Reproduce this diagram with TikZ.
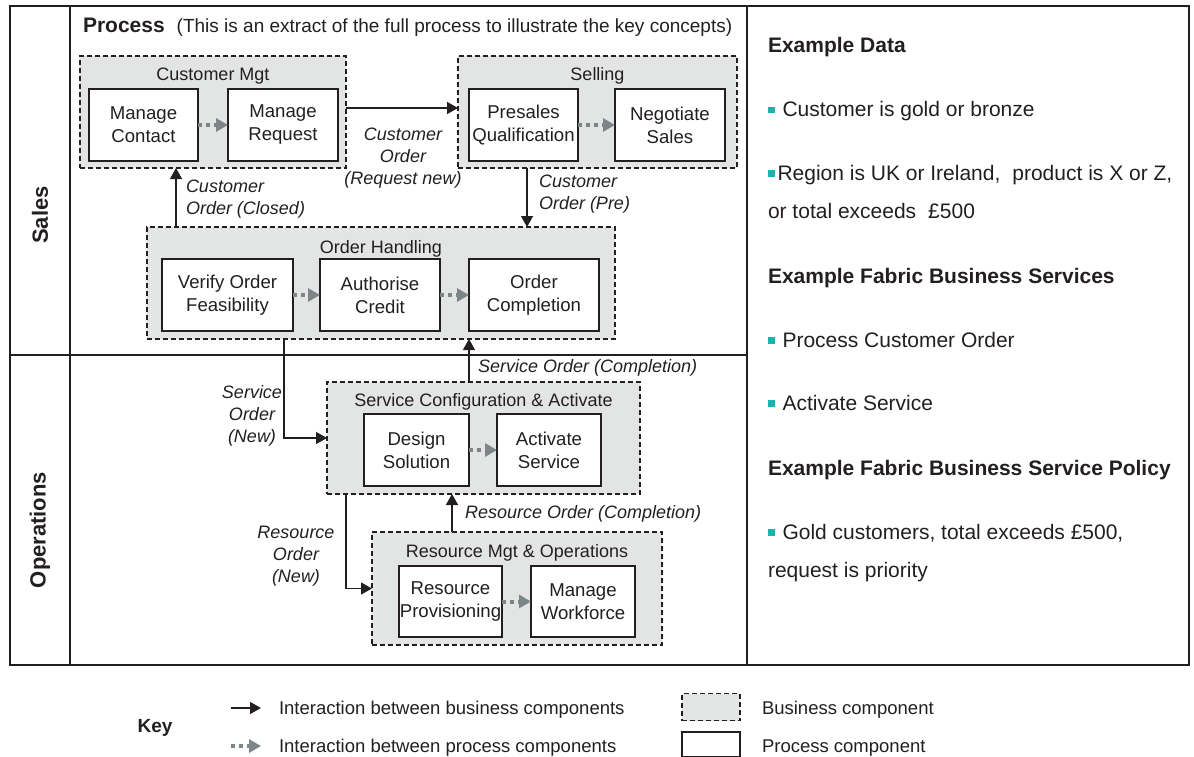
\documentclass[tikz,border=0pt]{standalone}
\usepackage{fontspec}
\setmainfont{Liberation Sans}
\usetikzlibrary{arrows.meta,calc}
\definecolor{bizfill}{HTML}{E3E4E4}
\definecolor{dotgray}{HTML}{7D8587}
\definecolor{bulletc}{HTML}{1AB3AE}
\definecolor{ink}{HTML}{231F20}
\newcommand{\bul}{\raisebox{3.5pt}{\textcolor{bulletc}{\rule{6.5pt}{6.5pt}}}}
\begin{document}
\begin{tikzpicture}[x=1pt,y=-1pt,
  every node/.style={text=ink, inner sep=0pt, outer sep=0pt},
  frame/.style={draw=ink, line width=1.8pt},
  biz/.style={draw=ink, fill=bizfill, line width=1.3pt, dash pattern=on 5pt off 3pt},
  proc/.style={draw=ink, fill=white, line width=2pt, align=center, minimum height=72pt, font=\fontsize{18.6}{23}\selectfont},
  ttl/.style={font=\fontsize{18}{22}\selectfont},
  lbl/.style={font=\fontsize{18}{22}\selectfont\itshape},
  lane/.style={font=\fontsize{22}{26}\selectfont\bfseries, rotate=90},
  side/.style={anchor=base west, font=\fontsize{21}{25}\selectfont},
  sidehd/.style={anchor=base west, font=\fontsize{21}{25}\selectfont\bfseries},
  keytxt/.style={anchor=base west, font=\fontsize{18.5}{22}\selectfont},
  barrow/.style={draw=ink, line width=1.3pt, -{Triangle[length=11pt,width=12pt]}},
  darrow/.style={draw=dotgray, line width=4pt, dash pattern=on 4pt off 4pt, -{Triangle[length=12pt,width=13pt]}}
]
\useasboundingbox (0,0) rectangle (1194,757);

% frame
\draw[frame] (10,6) rectangle (1189,665);
\draw[frame] (70,6) -- (70,665);
\draw[frame] (747,6) -- (747,665);
\draw[frame] (10,355) -- (747,355);

\node[lane] (sales) at (40,215) {Sales};
\node[lane] (ops) at (40,530) {Operations};

\node[anchor=base west, font=\fontsize{19}{23}\selectfont] (hdr) at (83,33)
  {{\fontsize{21}{23}\selectfont\bfseries Process}\hspace{12pt}(This is an extract of the full process to illustrate the key concepts)};

% business components
\node[biz, minimum width=266pt, minimum height=112pt] (cm) at (213,112) {};
\node[biz, minimum width=279pt, minimum height=112pt] (sell) at (597.5,112) {};
\node[biz, minimum width=468pt, minimum height=112pt] (oh) at (381,283) {};
\node[biz, minimum width=313pt, minimum height=112pt] (sc) at (483.5,438) {};
\node[biz, minimum width=290pt, minimum height=113pt] (rm) at (517,588.5) {};

\node[ttl] (cmt) at ($(cm.north)+(0,20)$) {Customer Mgt};
\node[ttl] (sellt) at ($(sell.north)+(0,20)$) {Selling};
\node[ttl] (oht) at ($(oh.north)+(0,22)$) {Order Handling};
\node[ttl] (sct) at ($(sc.north)+(0,20)$) {Service Configuration \& Activate};
\node[ttl] (rmt) at ($(rm.north)+(0,21)$) {Resource Mgt \& Operations};

% process components
\node[proc, minimum width=109pt] (mc) at (143.5,125) {Manage\\Contact};
\node[proc, minimum width=110pt] (mr) at (283,125) {Manage\\Request};
\node[proc, minimum width=109pt] (pq) at (523.5,125) {Presales\\Qualification};
\node[proc, minimum width=110pt] (ns) at (670,125) {Negotiate\\Sales};
\node[proc, minimum width=131pt] (vo) at (227.5,295) {Verify Order\\Feasibility};
\node[proc, minimum width=120pt] (ac) at (380,295) {Authorise\\Credit};
\node[proc, minimum width=130pt] (oc) at (534,295) {Order\\Completion};
\node[proc, minimum width=105pt] (ds) at (416.5,450) {Design\\Solution};
\node[proc, minimum width=104pt] (as) at (549,450) {Activate\\Service};
\node[proc, minimum width=103pt, minimum height=71pt] (rp) at (450.5,601.5) {Resource\\Provisioning};
\node[proc, minimum width=104pt, minimum height=71pt] (mw) at (583,601.5) {Manage\\Workforce};

% process interactions
\draw[darrow] (mc.east) -- (mr.west);
\draw[darrow] (pq.east) -- (ns.west);
\draw[darrow] (vo.east) -- (ac.west);
\draw[darrow] (ac.east) -- (oc.west);
\draw[darrow] (ds.east) -- (as.west);
\draw[darrow] (rp.east) -- (mw.west);

% business interactions
\draw[barrow] ([yshift=4pt]cm.east) -- ([yshift=4pt]sell.west);
\node[lbl, align=center] (l1) at (403,158) {Customer\\Order\\(Request new)};

\draw[barrow] (sell.south -| 527,0) -- (oh.north -| 527,0);
\node[lbl, align=left, anchor=west] (l2) at (539,194) {Customer\\Order (Pre)};

\draw[barrow] (oh.north -| 176,0) -- (cm.south -| 176,0);
\node[lbl, align=left, anchor=west] (l3) at (186,199) {Customer\\Order (Closed)};

\draw[barrow] (oh.south -| 284,0) |- (sc.west);
\node[lbl, align=center] (l4) at (252,416) {Service\\Order\\(New)};

\draw[barrow] (sc.north -| 469,0) -- (oh.south -| 469,0);
\node[lbl, anchor=west] (l5) at (478,368) {Service Order (Completion)};

\draw[barrow] (sc.south -| 346,0) |- (rm.west);
\node[lbl, align=center] (l6) at (296,556) {Resource\\Order\\(New)};

\draw[barrow] (rm.north -| 452,0) -- (sc.south -| 452,0);
\node[lbl, anchor=west] (l7) at (465,514) {Resource Order (Completion)};

% side panel
\node[sidehd] (s1) at (768,53) {Example Data};
\node[side] (s2) at (768,117) {\bul\hspace{8pt}Customer is gold or bronze};
\node[side] (s3) at (768,180) {\bul\hspace{3pt}Region is UK or Ireland,\hspace{12pt}product is X or Z,};
\node[side] (s4) at (768,218) {or total exceeds\hspace{12pt}£500};
\node[sidehd] (s5) at (768,283) {Example Fabric Business Services};
\node[side] (s6) at (768,347) {\bul\hspace{8pt}Process Customer Order};
\node[side] (s7) at (768,410) {\bul\hspace{8pt}Activate Service};
\node[sidehd] (s8) at (768,475) {Example Fabric Business Service Policy};
\node[side] (s9) at (768,539) {\bul\hspace{8pt}Gold customers, total exceeds £500,};
\node[side] (s10) at (768,577) {request is priority};

% key
\node[font=\fontsize{19}{22}\selectfont\bfseries] (key) at (155,728) {Key};
\coordinate (k1s) at (231,708);
\coordinate (k1e) at (261,708);
\draw[barrow] (k1s) -- (k1e);
\coordinate (k2s) at (231,746);
\coordinate (k2e) at (261,746);
\draw[darrow] (k2s) -- (k2e);
\node[keytxt] (kt1) at (279,714) {Interaction between business components};
\node[keytxt] (kt2) at (279,752) {Interaction between process components};
\node[biz, minimum width=58pt, minimum height=27pt] (kb1) at (711,707) {};
\node[draw=ink, fill=white, line width=2pt, minimum width=58pt, minimum height=25pt] (kb2) at (711,744) {};
\node[keytxt] (kt3) at (762,714) {Business component};
\node[keytxt] (kt4) at (762,752) {Process component};
\end{tikzpicture}
\end{document}
